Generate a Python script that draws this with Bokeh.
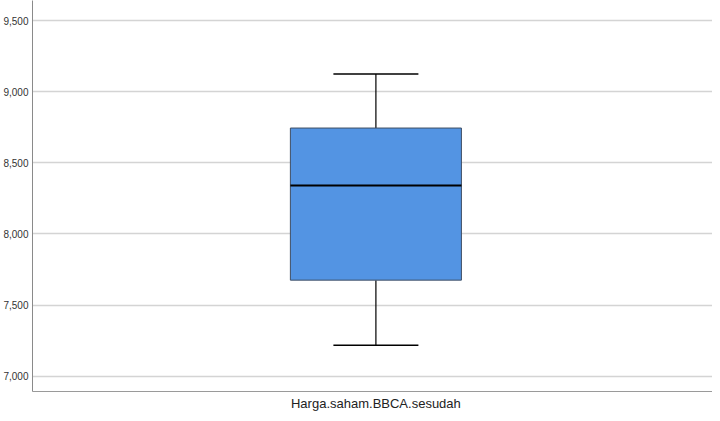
from bokeh.plotting import figure
from bokeh.models import Range1d, FixedTicker, NumeralTickFormatter
from bokeh.embed import file_html
from bokeh.resources import INLINE

# --- data ---
category = "Harga.saham.BBCA.sesudah"
whisker_low = [7216]
q1 = [7675]
median = [8341]
q3 = [8746]
whisker_high = [9126]
y_ticks = [7000, 7500, 8000, 8500, 9000, 9500]

center = [0.5]
box_width = 0.2515
cap_half = 0.0625

p = figure(width=712, height=413, output_backend="svg", toolbar_location=None,
           x_range=Range1d(-0.005, 0.995), y_range=Range1d(6891, 9644),
           min_border_left=32, min_border_right=0, min_border_top=0, min_border_bottom=20)
p.outline_line_color = None
p.background_fill_color = "white"
p.border_fill_color = "white"

# grid
p.xgrid.grid_line_color = None
p.ygrid.grid_line_color = "#d4d4d4"
p.ygrid.grid_line_width = 1.3

# y axis
p.yaxis.ticker = FixedTicker(ticks=y_ticks)
p.yaxis.formatter = NumeralTickFormatter(format="0,0")
p.yaxis.major_tick_line_color = None
p.yaxis.minor_tick_line_color = None
p.yaxis.major_tick_out = 0
p.yaxis.major_label_standoff = 4
p.yaxis.axis_line_color = "#8a8a8a"
p.yaxis.major_label_text_font = "Liberation Sans"
p.yaxis.major_label_text_font_size = "10px"
p.yaxis.major_label_text_color = "#333333"

# x axis
p.xaxis.ticker = FixedTicker(ticks=center)
p.xaxis.major_label_overrides = {center[0]: category}
p.xaxis.major_tick_line_color = None
p.xaxis.minor_tick_line_color = None
p.xaxis.major_tick_out = 0
p.xaxis.major_label_standoff = 4
p.xaxis.axis_line_color = "#9a9a9a"
p.xaxis.major_label_text_font = "Liberation Sans"
p.xaxis.major_label_text_font_size = "13px"
p.xaxis.major_label_text_color = "#222222"

# whiskers
p.segment(x0=center, y0=q3, x1=center, y1=whisker_high, line_color="black", line_width=1.2)
p.segment(x0=center, y0=q1, x1=center, y1=whisker_low, line_color="black", line_width=1.2)
p.segment(x0=[c - cap_half for c in center], y0=whisker_high,
          x1=[c + cap_half for c in center], y1=whisker_high, line_color="black", line_width=1.5)
p.segment(x0=[c - cap_half for c in center], y0=whisker_low,
          x1=[c + cap_half for c in center], y1=whisker_low, line_color="black", line_width=1.5)

# box
p.vbar(x=center, bottom=q1, top=q3, width=box_width,
       fill_color="#5394E3", line_color="#3f4e63", line_width=1)
# median
p.segment(x0=[c - box_width / 2 for c in center], y0=median,
          x1=[c + box_width / 2 for c in center], y1=median, line_color="black", line_width=2)

open("out.html", "w").write(file_html(p, INLINE))
